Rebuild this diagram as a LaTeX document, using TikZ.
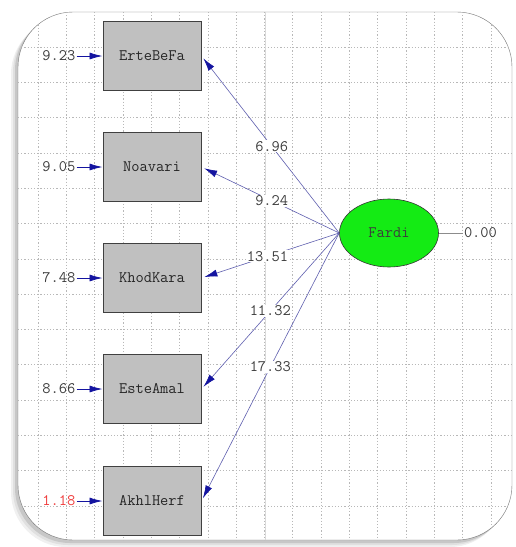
\documentclass[tikz,border=0pt]{standalone}
\usetikzlibrary{arrows.meta,positioning,shapes.geometric}
\definecolor{loadblue}{RGB}{95,95,175}
\definecolor{tipblue}{RGB}{20,20,160}
\definecolor{boxgray}{RGB}{192,192,192}
\definecolor{latgreen}{RGB}{20,235,20}
\definecolor{txtgray}{RGB}{60,60,60}
\definecolor{errred}{RGB}{240,60,60}

\begin{document}
\begin{tikzpicture}[x=1pt,y=-1pt,
  font=\ttfamily\fontsize{16}{18}\selectfont,
  obs/.style={draw=black!75, fill=boxgray, line width=1pt,
    minimum width=98pt, minimum height=69pt, text=black!85},
  lat/.style={ellipse, draw=black!80, fill=latgreen, line width=0.6pt,
    minimum width=99pt, minimum height=68pt, text=txtgray},
  errlbl/.style={inner sep=1pt, text=txtgray},
  coef/.style={fill=white, inner sep=1pt, text=txtgray},
  load/.style={draw=loadblue, line width=0.6pt,
    -{Latex[length=13pt,width=7pt,color=tipblue]}, shorten >=3pt},
  resid/.style={draw=tipblue, line width=0.8pt,
    -{Latex[length=13pt,width=7pt,color=tipblue]}},
  gridline/.style={black!28, line width=0.5pt, dash pattern=on 1.2pt off 2pt}]
\useasboundingbox (0,0) rectangle (515,547);

% panel with shadow
\foreach \s/\c in {7/6,5/12,3/22} {
\fill[black!\c, rounded corners=55pt] (18-\s,12+\s) rectangle (512-\s,540+\s);
}
\draw[black!55, fill=white, rounded corners=55pt] (18,12) rectangle (512,540);

% grid
\begin{scope}
\clip[rounded corners=55pt] (18,12) rectangle (512,540);
\foreach \x in {38,66.3,...,512} {
\draw[gridline] (\x,12) -- (\x,540);
}
\foreach \y in {47,82.3,...,540} {
\draw[gridline] (18,\y) -- (512,\y);
}
\draw[black!15, line width=0.8pt] (265,12) -- (265,540);
\end{scope}

% latent variable
\node[lat] (fardi) at (389,233) {Fardi};
\node[errlbl, right=24pt of fardi] (zero) {0.00};
\draw[black!45, line width=0.5pt] (fardi.east) -- (zero.west);

% observed variables
\foreach \name/\txt/\y/\err/\val in {erte/ErteBeFa/56/txtgray/9.23,
  noav/Noavari/167/txtgray/9.05, khod/KhodKara/278/txtgray/7.48,
  este/EsteAmal/389/txtgray/8.66, akhl/AkhlHerf/501/errred/1.18} {
\node[obs] (\name) at (152,\y) {\txt};
\node[errlbl, text=\err, left=26pt of \name] (e\name) {\val};
\draw[resid] (e\name) -- (\name);
}

% loadings
\draw[load] (fardi.west) -- node[coef, pos=0.49] {6.96} (erte.east);
\draw[load] (fardi.west) -- node[coef, pos=0.49] {9.24} (noav.east);
\draw[load] (fardi.west) -- node[coef, pos=0.52] {13.51} (khod.east);
\draw[load] (fardi.west) -- node[coef, pos=0.5] {11.32} (este.east);
\draw[load] (fardi.west) -- node[coef, pos=0.5] {17.33} (akhl.east);
\end{tikzpicture}
\end{document}
